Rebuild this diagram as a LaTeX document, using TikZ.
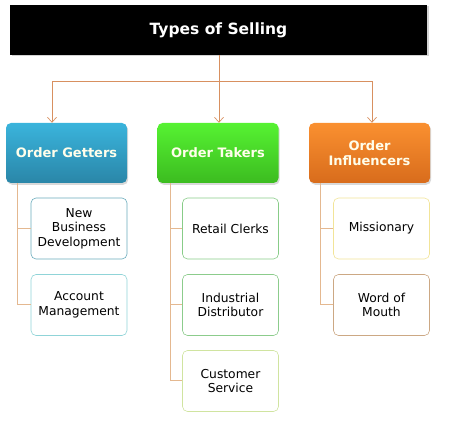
\documentclass[tikz,border=0pt]{standalone}
\usepackage{fontspec}
\setmainfont{DejaVu Sans}
\usetikzlibrary{arrows.meta,shadows}
\definecolor{lnA}{HTML}{D89060}
\definecolor{lnB}{HTML}{E4B890}
\definecolor{bluT}{HTML}{3AB4DC}
\definecolor{bluB}{HTML}{2A86A8}
\definecolor{grnT}{HTML}{56F232}
\definecolor{grnB}{HTML}{3CBC20}
\definecolor{orgT}{HTML}{FA9030}
\definecolor{orgB}{HTML}{D86C1C}
\definecolor{bdA}{HTML}{6AACBC}
\definecolor{bdB}{HTML}{90D4D8}
\definecolor{bdC}{HTML}{88CC88}
\definecolor{bdD}{HTML}{8CCC8C}
\definecolor{bdE}{HTML}{D0E4A0}
\definecolor{bdF}{HTML}{F2E498}
\definecolor{bdG}{HTML}{CCA884}
\tikzset{
  titlebox/.style={fill=black,minimum width=417pt,minimum height=50pt,text=white,font=\bfseries\fontsize{15.5}{18}\selectfont,
    drop shadow={shadow xshift=1.5pt,shadow yshift=-1.5pt,opacity=0.35}},
  parentbox/.style={rounded corners=5pt,minimum width=121pt,minimum height=60pt,text=white!92!yellow,
    font=\bfseries\fontsize{13}{14.5}\selectfont,align=center,
    drop shadow={shadow xshift=1.2pt,shadow yshift=-1.8pt,opacity=0.3}},
  childbox/.style={rounded corners=5pt,minimum width=96pt,minimum height=61pt,fill=white,line width=0.6pt,
    font=\fontsize{12.3}{14.5}\selectfont,align=center,text=black},
  topline/.style={lnA,line width=0.8pt},
  subline/.style={lnB,line width=1pt},
  arr/.style={-{Straight Barb[length=5pt,width=9pt,line width=0.7pt]}}
}
\begin{document}
\begin{tikzpicture}[x=1pt,y=-1pt]
\useasboundingbox (0,0) rectangle (456,422);
\node[titlebox] (title) at (218.5,30) {Types of Selling};
\node[parentbox,top color=bluT,bottom color=bluB] (og) at (66.5,153) {Order Getters};
\node[parentbox,top color=grnT,bottom color=grnB] (ot) at (218,153) {Order Takers};
\node[parentbox,top color=orgT,bottom color=orgB] (oi) at (369.5,153) {Order\\Influencers};
\node[childbox,draw=bdA] (c11) at (79,228.5) {New\\Business\\Development};
\node[childbox,draw=bdB] (c12) at (79,305) {Account\\Management};
\node[childbox,draw=bdC] (c21) at (230.5,228.5) {Retail Clerks};
\node[childbox,draw=bdD] (c22) at (230.5,305) {Industrial\\Distributor};
\node[childbox,draw=bdE] (c23) at (230.5,381) {Customer\\Service};
\node[childbox,draw=bdF] (c31) at (381.5,228.5) {Missionary};
\node[childbox,draw=bdG] (c32) at (381.5,305) {Word of\\Mouth};
\coordinate (j) at (219,81);
\coordinate (a1) at ([xshift=-14.5pt]og.north);
\coordinate (a3) at ([xshift=2.5pt]oi.north);
\draw[topline] (title.south -| j) -- (j);
\draw[topline,arr] (j) -| (a1);
\draw[topline,arr] (j) -- (j |- ot.north);
\draw[topline,arr] (j) -| (a3);
\coordinate (s1) at ([xshift=12pt]og.south west);
\coordinate (s2) at ([xshift=13pt]ot.south west);
\coordinate (s3) at ([xshift=12pt]oi.south west);
\draw[subline] (s1) |- (c11.west);
\draw[subline] (s1) |- (c12.west);
\draw[subline] (s2) |- (c21.west);
\draw[subline] (s2) |- (c22.west);
\draw[subline] (s2) |- (c23.west);
\draw[subline] (s3) |- (c31.west);
\draw[subline] (s3) |- (c32.west);
\end{tikzpicture}
\end{document}
